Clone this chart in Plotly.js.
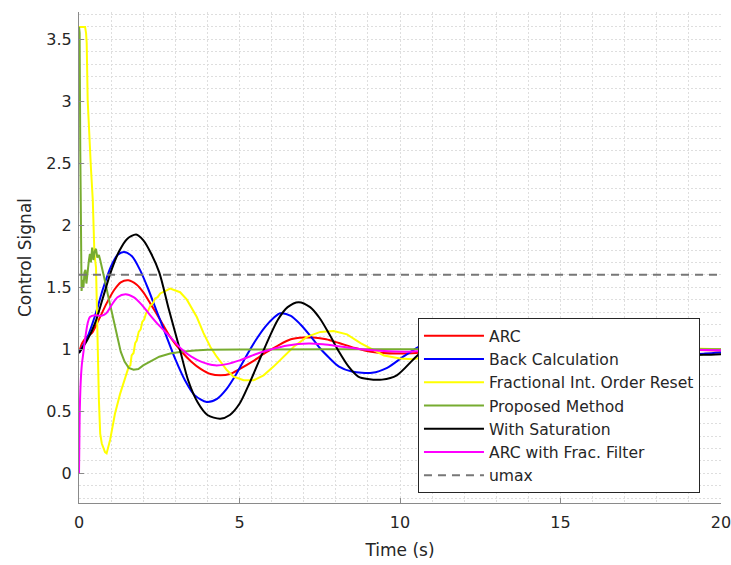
<!DOCTYPE html>
<html>
<head>
<meta charset="utf-8">
<script src="https://cdn.plot.ly/plotly-3.0.1.min.js"></script>
<style>html,body{margin:0;padding:0;background:#fff;}#chart{width:731px;height:565px;}</style>
</head>
<body>
<div id="chart"></div>
<script>
// ARC
const tArc = [0,0.1,0.24,0.4,0.6,0.86,1.1,1.3,1.54,1.8,2.0,2.22,2.5,2.84,3.2,3.5,3.8,4.1,4.4,4.7,5.0,5.4,5.8,6.2,6.6,7.0,7.3,7.7,8.1,8.6,9.1,9.9,10.5,11.2,12,13,14,15,16,17,18,19,20];
const uArc = [0.97,1.05,1.1,1.13,1.23,1.37,1.48,1.54,1.556,1.52,1.46,1.37,1.25,1.1,0.98,0.9,0.84,0.8,0.79,0.8,0.84,0.9,0.97,1.03,1.08,1.094,1.094,1.08,1.05,1.01,0.98,0.965,0.97,0.99,1.01,1.01,1.0,0.99,0.99,1.0,1.0,0.995,0.99];
// Back Calculation
const tBack = [0,0.25,0.5,0.75,1.0,1.2,1.4,1.65,1.9,2.15,2.4,2.7,3.0,3.3,3.6,3.98,4.3,4.6,4.9,5.2,5.5,5.8,6.05,6.27,6.6,6.9,7.2,7.5,7.8,8.1,8.5,9.13,9.6,10.1,10.58,11.1,11.7,12.3,12.9,13.5,14.2,14.9,15.6,16.2,16.8,17.5,18.2,18.9,19.5,20];
const uBack = [0.97,1.09,1.27,1.49,1.67,1.76,1.785,1.75,1.64,1.49,1.32,1.12,0.92,0.75,0.63,0.575,0.6,0.68,0.8,0.94,1.07,1.18,1.25,1.29,1.27,1.2,1.11,1.01,0.93,0.86,0.82,0.81,0.85,0.94,1.02,1.09,1.12,1.09,1.02,0.95,0.92,0.95,1.01,1.05,1.05,1.01,0.97,0.96,0.965,0.973];
// Fractional Int. Order Reset
const tFrac = [0,0.19,0.22,0.24,0.27,0.32,0.37,0.43,0.48,0.53,0.57,0.62,0.66,0.71,0.81,0.86,0.97,1.12,1.28,1.49,1.55,1.6,1.64,1.7,1.75,1.8,1.86,1.92,1.97,2.03,2.09,2.15,2.22,2.3,2.37,2.45,2.53,2.84,3.15,3.36,3.67,3.88,4.09,4.29,4.61,4.81,5.13,5.44,5.75,6.06,6.37,6.69,7.1,7.52,7.93,8.35,8.77,9.5,10.0,10.4,11.0,11.7,12.4,13.0,13.6,14.3,15.0,15.6,16.3,17.0,18.0,19.0,20];
const uFrac = [3.6,3.6,3.55,3.47,3.01,2.79,2.47,2.2,1.77,1.66,1.13,0.59,0.32,0.24,0.17,0.16,0.27,0.48,0.64,0.8,0.86,0.87,0.95,0.97,1.05,1.07,1.14,1.16,1.22,1.24,1.29,1.31,1.35,1.37,1.41,1.42,1.45,1.49,1.46,1.4,1.26,1.13,1.02,0.94,0.83,0.78,0.75,0.75,0.79,0.86,0.94,1.02,1.1,1.14,1.147,1.12,1.05,0.95,0.925,0.92,0.95,1.0,1.04,1.05,1.04,1.0,0.98,0.975,0.985,1.0,1.015,1.005,1.0];
// Proposed Method
const tProp = [0,0.02,0.04,0.06,0.08,0.11,0.14,0.17,0.2,0.23,0.27,0.31,0.34,0.37,0.41,0.45,0.49,0.53,0.57,0.62,0.66,0.72,0.8,0.9,1.0,1.1,1.2,1.3,1.42,1.55,1.7,1.85,2.0,2.2,2.5,2.84,3.2,3.6,4.0,5,6,8,10,12,14,16,18,20];
const uProp = [3.6,3.55,2.6,1.6,1.47,1.56,1.5,1.62,1.64,1.53,1.66,1.72,1.77,1.7,1.82,1.72,1.79,1.81,1.74,1.76,1.72,1.66,1.56,1.44,1.32,1.2,1.08,0.98,0.9,0.85,0.835,0.84,0.87,0.9,0.94,0.965,0.98,0.99,0.995,0.998,1.0,1.0,1.0,1.0,1.0,1.0,1.0,1.0];
// With Saturation
const tSat = [0,0.25,0.5,0.75,1.0,1.25,1.5,1.78,2.0,2.25,2.5,2.8,3.15,3.4,3.7,4.0,4.4,4.7,5.0,5.3,5.6,5.9,6.2,6.5,6.84,7.2,7.5,7.8,8.1,8.4,8.7,9.0,9.44,9.9,10.5,11.0,11.5,11.95,12.5,13.0,13.5,14.0,14.5,15.0,15.5,16.0,16.5,17.0,17.5,18.0,18.5,19.0,19.5,20];
const uSat = [0.97,1.07,1.21,1.42,1.63,1.79,1.89,1.925,1.88,1.77,1.62,1.32,0.99,0.75,0.57,0.47,0.44,0.47,0.56,0.72,0.9,1.08,1.24,1.34,1.38,1.34,1.25,1.12,0.98,0.86,0.78,0.76,0.755,0.79,0.94,1.05,1.12,1.14,1.12,1.05,0.97,0.92,0.9,0.92,0.98,1.03,1.06,1.065,1.04,1.0,0.97,0.955,0.955,0.96];
// ARC with Frac. Filter
const tFil = [0,0.02,0.05,0.09,0.13,0.2,0.27,0.34,0.5,0.7,0.85,1.0,1.2,1.45,1.7,1.95,2.2,2.5,2.84,3.2,3.5,3.8,4.24,4.6,5.0,5.5,6.0,6.5,7.15,7.6,8.2,8.8,9.5,10.2,11,12,13,14,15,16,17,18,19,20];
const uFil = [0,0.45,0.72,0.88,0.96,1.1,1.21,1.26,1.275,1.27,1.29,1.35,1.42,1.444,1.42,1.36,1.28,1.19,1.1,1.0,0.94,0.9,0.87,0.88,0.91,0.96,1.0,1.03,1.046,1.04,1.02,1.0,0.985,0.98,0.99,1.0,1.005,1.0,1.0,0.995,0.995,1.0,0.995,0.992];
// umax
const tUmax = [0,20];
const uUmax = [1.6,1.6];

const names = ['ARC','Back Calculation','Fractional Int. Order Reset','Proposed Method','With Saturation','ARC with Frac. Filter','umax'];
const colors = ['#ff0000','#0000ff','#ffff00','#77ac30','#000000','#ff00ff','#777777'];
const xs = [tArc,tBack,tFrac,tProp,tSat,tFil,tUmax];
const ys = [uArc,uBack,uFrac,uProp,uSat,uFil,uUmax];
const smooth = [true,true,false,false,true,true,false];

const traces = names.map((n,i)=>({
  x: xs[i], y: ys[i], name: n, type:'scatter', mode:'lines',
  line: {color: colors[i], width: 2, dash: i===6 ? '8px,6px' : 'solid',
         shape: smooth[i] ? 'spline' : 'linear', smoothing: 0.8}
}));

const FONT = 'DejaVu Sans, Liberation Sans, Arial, sans-serif';
const gridc = '#dedede';
const layout = {
  width: 731, height: 565,
  margin: {l:79, r:10, t:12, b:62},
  paper_bgcolor:'#fff', plot_bgcolor:'#fff',
  font: {family: FONT, color:'#262626', size:15},
  showlegend: true,
  legend: {
    x: 0.528, y: 0.3768, xanchor:'left', yanchor:'top',
    bgcolor:'#ffffff', bordercolor:'#262626', borderwidth:1,
    font:{family:FONT, size:15.6, color:'#262626'},
    itemwidth: 60, tracegroupgap: 0
  },
  xaxis: {
    range:[0,20], dtick:5, tick0:0,
    showline:true, linecolor:'#8a8a8a', linewidth:1, mirror:false,
    ticks:'inside', ticklen:5, tickcolor:'#8a8a8a',
    showgrid:true, gridcolor:gridc, griddash:'2px,2px', gridwidth:1,
    minor:{dtick:1, showgrid:true, gridcolor:gridc, griddash:'2px,2px', gridwidth:1},
    zeroline:false, ticklabeloverflow:'allow', ticklabelstandoff:5,
    tickfont:{family:FONT, size:16, color:'#262626'},
    title:{text:'Time (s)', font:{family:FONT, size:17, color:'#262626'}, standoff:12}
  },
  yaxis: {
    range:[-0.24,3.72], dtick:0.5, tick0:0,
    showline:true, linecolor:'#8a8a8a', linewidth:1, mirror:false,
    ticks:'inside', ticklen:5, tickcolor:'#8a8a8a',
    showgrid:true, gridcolor:gridc, griddash:'2px,2px', gridwidth:1,
    minor:{dtick:0.1, showgrid:true, gridcolor:gridc, griddash:'2px,2px', gridwidth:1},
    zeroline:false, ticklabelstandoff:3,
    tickfont:{family:FONT, size:16, color:'#262626'},
    title:{text:'Control Signal', font:{family:FONT, size:17, color:'#262626'}, standoff:10}
  }
};

Plotly.newPlot('chart', traces, layout, {displayModeBar:false, staticPlot:true});
</script>
</body>
</html>
